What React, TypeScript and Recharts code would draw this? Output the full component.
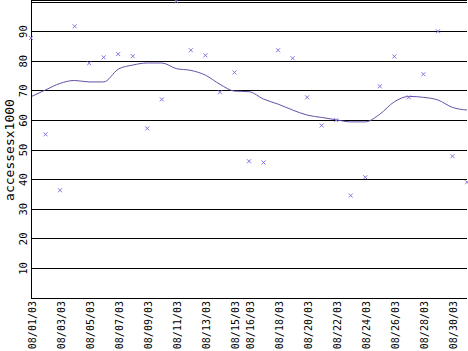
import React from 'react';
import { LineChart, Line, XAxis, YAxis, CartesianGrid } from 'recharts';

const days = [1, 2, 3, 4, 5, 6, 7, 8, 9, 10, 11, 12, 13, 14, 15, 16, 17, 18, 19, 20, 21, 22, 23, 24, 25, 26, 27, 28, 29, 30, 31];
const accesses = [87.8, 55.3, 36.4, 91.8, 79.3, 81.3, 82.4, 81.7, 57.3, 67.1, 100.3, 83.7, 82.0, 69.5, 76.2, 46.2, 45.8, 83.7, 81.0, 67.8, 58.3, 60.1, 34.6, 40.8, 71.5, 81.6, 67.8, 75.6, 90.1, 47.9, 39.1];
const movingAverage = [68.0, 70.3, 72.5, 73.5, 73.0, 73.0, 77.3, 78.7, 79.4, 79.4, 77.5, 76.9, 75.3, 72.2, 69.9, 69.7, 67.2, 65.5, 63.5, 61.8, 61.0, 60.2, 59.5, 59.5, 62.1, 66.3, 68.1, 67.8, 66.9, 64.4, 63.5];
const xTicks = [1, 3, 5, 7, 9, 11, 13, 15, 16, 18, 20, 22, 24, 26, 28, 30];
const yTicks = [0, 10, 20, 30, 40, 50, 60, 70, 80, 90, 100];
const yLabel = 'accessesx1000';

const data = days.map((d, i) => ({ day: d, acc: accesses[i], avg: movingAverage[i] }));

const fmtDay = (d: number) => `08/${String(d).padStart(2, '0')}/03`;

const FONT = '"DejaVu Sans Mono", monospace';

const XTick = (props: any) => {
  const { x, y, payload } = props;
  const tx = x + 5;
  return (
    <text x={tx} y={y} transform={`rotate(-90, ${tx}, ${y})`} textAnchor="end" fontSize={10} fontFamily={FONT} fill="#000">
      {fmtDay(payload.value)}
    </text>
  );
};

const YTick = (props: any) => {
  const { x, y, payload } = props;
  if (payload.value === 0 || payload.value === 100) return null;
  return (
    <text x={x} y={y} transform={`rotate(-90, ${x}, ${y})`} textAnchor="middle" fontSize={10.5} fontFamily={FONT} fill="#000">
      {payload.value}
    </text>
  );
};

const XMark = (props: any) => {
  const { cx, cy, index } = props;
  if (cx == null || cy == null) return <g key={index} />;
  const s = 2;
  return (
    <g key={index}>
      <line x1={cx - s} y1={cy - s} x2={cx + s} y2={cy + s} stroke="#8a70e0" strokeWidth={1} />
      <line x1={cx - s} y1={cy + s} x2={cx + s} y2={cy - s} stroke="#8a70e0" strokeWidth={1} />
    </g>
  );
};

export default function App() {
  return (
    <div style={{ position: 'absolute', left: 0, top: 0, width: 468, height: 351, background: '#fff' }}>
      <LineChart width={468} height={351} data={data} margin={{ top: 0, right: 1, left: 0, bottom: 0 }}>
        <CartesianGrid vertical={false} stroke="#000" strokeWidth={1} shapeRendering="crispEdges" />
        <XAxis
          dataKey="day"
          type="number"
          domain={[1, 31]}
          ticks={xTicks}
          interval={0}
          height={53}
          tickLine={false}
          tickSize={0}
          tickMargin={3}
          axisLine={{ stroke: '#000', shapeRendering: 'crispEdges' }}
          tick={<XTick />}
        />
        <YAxis
          type="number"
          domain={[0, 100.68]}
          ticks={yTicks}
          interval={0}
          width={31}
          tickLine={false}
          tickSize={0}
          tickMargin={4}
          axisLine={{ stroke: '#000', shapeRendering: 'crispEdges' }}
          tick={<YTick />}
          allowDataOverflow
        />
        <Line dataKey="avg" type="monotone" stroke="#6650a8" strokeWidth={1} dot={false} isAnimationActive={false} />
        <Line dataKey="acc" stroke="none" dot={<XMark />} activeDot={false} isAnimationActive={false} />
      </LineChart>
      <svg width={20} height={351} style={{ position: 'absolute', left: 0, top: 0 }}>
        <text x={14} y={150} transform="rotate(-90, 14, 150)" textAnchor="middle" fontSize={13} fontFamily={FONT} fill="#000">
          {yLabel}
        </text>
      </svg>
    </div>
  );
}
